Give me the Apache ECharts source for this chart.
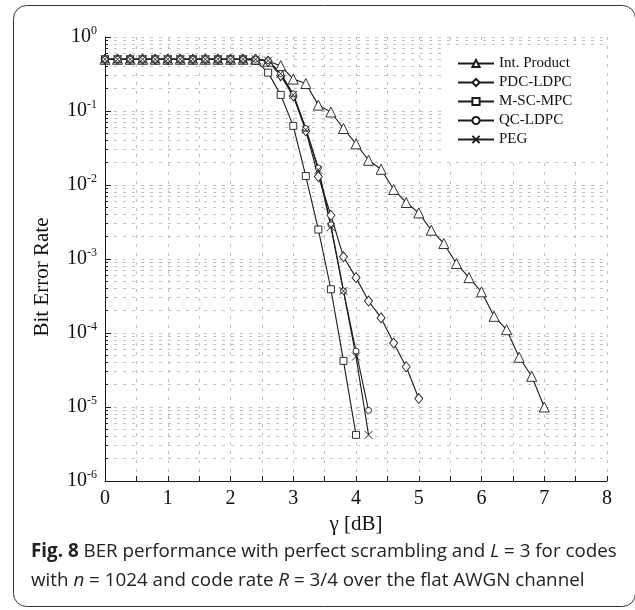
<!DOCTYPE html>
<html>
<head>
<meta charset="utf-8">
<script src="https://cdn.jsdelivr.net/npm/echarts@6/dist/echarts.min.js"></script>
<style>
  html, body { margin: 0; padding: 0; background: #fff; }
  #chart { width: 635px; height: 610px; }
</style>
</head>
<body>
<div id="chart"></div>
<script>
// SNR points (dB), shared by all curves
const snr = [0.0, 0.2, 0.4, 0.6, 0.8, 1.0, 1.2, 1.4, 1.6, 1.8, 2.0, 2.2, 2.4, 2.6, 2.8, 3.0,
             3.2, 3.4, 3.6, 3.8, 4.0, 4.2, 4.4, 4.6, 4.8, 5.0, 5.2, 5.4, 5.6, 5.8, 6.0, 6.2,
             6.4, 6.6, 6.8, 7.0];

// Bit error rate per code, starting at 0 dB
const berIntProduct = [0.5, 0.5, 0.5, 0.5, 0.5, 0.5, 0.5, 0.5, 0.5, 0.5, 0.5, 0.5, 0.5,
  0.47, 0.41, 0.27, 0.235, 0.12, 0.097, 0.058, 0.036, 0.0216, 0.0163, 0.0087, 0.0058,
  0.0042, 0.00245, 0.00162, 0.00087, 0.00056, 0.00036, 0.000168, 0.000111, 4.7e-5,
  2.6e-5, 1.0e-5];
const berPdcLdpc = [0.5, 0.5, 0.5, 0.5, 0.5, 0.5, 0.5, 0.5, 0.5, 0.5, 0.5, 0.5, 0.5,
  0.47, 0.30, 0.16, 0.054, 0.013, 0.0039, 0.00107, 0.00056, 0.00027, 0.00016, 7.3e-5,
  3.5e-5, 1.3e-5];
const berMscMpc = [0.5, 0.5, 0.5, 0.5, 0.5, 0.5, 0.5, 0.5, 0.5, 0.5, 0.5, 0.5,
  0.48, 0.33, 0.165, 0.063, 0.0132, 0.0025, 0.00039, 4.2e-5, 4.2e-6];
const berQcLdpc = [0.5, 0.5, 0.5, 0.5, 0.5, 0.5, 0.5, 0.5, 0.5, 0.5, 0.5, 0.5, 0.5,
  0.48, 0.32, 0.17, 0.058, 0.017, 0.0029, 0.00037, 5.7e-5, 9.0e-6];
const berPeg = [0.5, 0.5, 0.5, 0.5, 0.5, 0.5, 0.5, 0.5, 0.5, 0.5, 0.5, 0.5, 0.5,
  0.48, 0.32, 0.165, 0.056, 0.016, 0.0027, 0.00037, 4.8e-5, 4.2e-6];

const seriesNames = ['Int. Product', 'PDC-LDPC', 'M-SC-MPC', 'QC-LDPC', 'PEG'];

// Axis tick labels
const xTickLabels = ['0', '1', '2', '3', '4', '5', '6', '7', '8'];
const yExponents = ['0', '-1', '-2', '-3', '-4', '-5', '-6'];

const INK = '#1c1c1c';
const GRID = '#c2c2c2';
const SERIF = '"Liberation Serif", "DejaVu Serif", serif';

// Minor decade positions (2..9 x 10^k) in log10 units for the helper axis
const minorLog = [];
for (let k = -6; k < 0; k++) {
  for (let m = 2; m <= 9; m++) minorLog.push(Math.log10(m) + k);
}

function curve(name, ber, symbol, size) {
  return {
    name: name,
    type: 'line',
    xAxisIndex: 0,
    yAxisIndex: 0,
    data: ber.map((v, i) => [snr[i], v]),
    symbol: symbol,
    symbolSize: size,
    showSymbol: true,
    showAllSymbol: true,
    clip: false,
    lineStyle: { color: INK, width: 1.1 },
    itemStyle: { color: '#fff', borderColor: INK, borderWidth: 0.9 },
    emphasis: { disabled: true },
    z: 3
  };
}

const crossPath = 'path://M0,0L10,10M0,10L10,0';

const chart = echarts.init(document.getElementById('chart'), null, { renderer: 'canvas' });

chart.setOption({
  animation: false,
  backgroundColor: '#fff',
  grid: { left: 105, right: 28, top: 37, bottom: 129, containLabel: false },
  legend: {
    orient: 'vertical',
    left: 441,
    top: 46,
    padding: [10, 32, 10, 16],
    backgroundColor: '#fff',
    itemWidth: 36,
    itemHeight: 9,
    itemGap: 4,
    data: seriesNames,
    textStyle: { fontFamily: SERIF, fontSize: 15, color: '#111' },
    z: 10
  },
  xAxis: {
    type: 'value',
    min: 0,
    max: 8,
    interval: 0.5,
    name: 'γ [dB]',
    nameLocation: 'middle',
    nameGap: 29,
    nameTextStyle: { fontFamily: SERIF, fontSize: 21, color: '#111' },
    axisLine: { show: true, onZero: false, lineStyle: { color: INK, width: 1 } },
    axisTick: { show: true, inside: true, length: 5, lineStyle: { color: INK } },
    axisLabel: {
      margin: 8,
      fontFamily: SERIF,
      fontSize: 20,
      color: '#111',
      formatter: v => (Number.isInteger(v) ? xTickLabels[v] : '')
    },
    splitLine: { show: true, lineStyle: { color: GRID, type: [3, 6], width: 1 } }
  },
  yAxis: [
    {
      type: 'log',
      logBase: 10,
      min: 1e-6,
      max: 1,
      splitNumber: 6,
      position: 'left',
      name: 'Bit Error Rate',
      nameLocation: 'middle',
      nameGap: 52,
      nameTextStyle: { fontFamily: SERIF, fontSize: 21, color: '#111', padding: [0, 36, 0, 0] },
      axisLine: { show: true, onZero: false, lineStyle: { color: INK, width: 1 } },
      axisTick: { show: true, inside: true, length: 6, lineStyle: { color: INK } },
      axisLabel: {
        margin: 8,
        formatter: v => {
          const e = Math.round(Math.log10(v));
          return '{b|10}{s|' + yExponents[-e] + '}';
        },
        rich: {
          b: { fontFamily: SERIF, fontSize: 20, color: '#111', lineHeight: 24 },
          s: { fontFamily: SERIF, fontSize: 12, color: '#111', verticalAlign: 'top', lineHeight: 14 }
        }
      },
      splitLine: { show: true, lineStyle: { color: GRID, type: [3, 6], width: 1 } }
    },
    {
      // helper axis: minor ticks and minor grid lines between decades
      type: 'value',
      min: -6,
      max: 0,
      position: 'left',
      axisLine: { show: false },
      axisLabel: { show: false },
      axisTick: { show: true, inside: true, length: 3, customValues: minorLog, lineStyle: { color: INK } },
      splitLine: { show: true, lineStyle: { color: GRID, type: [3, 6], width: 1 } }
    }
  ],
  series: [
    curve(seriesNames[0], berIntProduct, 'triangle', 10),
    curve(seriesNames[1], berPdcLdpc, 'diamond', [8, 10]),
    curve(seriesNames[2], berMscMpc, 'rect', 7),
    curve(seriesNames[3], berQcLdpc, 'circle', 6),
    curve(seriesNames[4], berPeg, crossPath, 8)
  ],
  graphic: [
    {
      type: 'rect',
      shape: { x: 13.5, y: 5.5, width: 622, height: 601, r: 13 },
      style: { fill: 'none', stroke: '#333', lineWidth: 1 },
      silent: true,
      z: 100
    },
    {
      type: 'text',
      left: 31,
      top: 537,
      silent: true,
      style: {
        text: '{b|Fig. 8} BER performance with perfect scrambling and {i|L} = 3 for codes\n' +
              'with {i|n} = 1024 and code rate {i|R} = 3/4 over the flat AWGN channel',
        fill: '#222',
        font: '18.8px "Open Sans"',
        lineHeight: 29,
        rich: {
          b: { fontFamily: '"Open Sans"', fontSize: 18.8, fontWeight: 'bold', fill: '#222', lineHeight: 29 },
          i: { fontFamily: '"Open Sans"', fontSize: 18.8, fontStyle: 'italic', fill: '#222', lineHeight: 29 }
        }
      },
      z: 100
    }
  ]
});
</script>
</body>
</html>
